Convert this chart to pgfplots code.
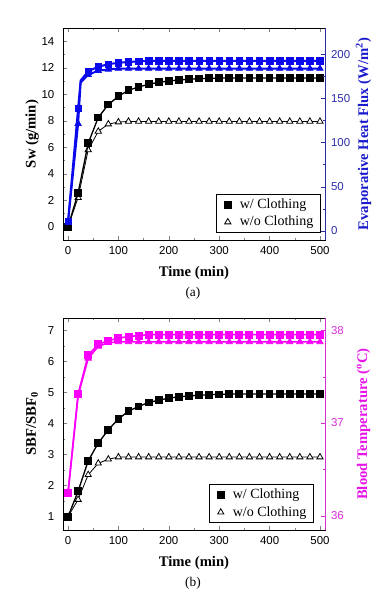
\documentclass[border=0pt]{standalone}
\usepackage{pgfplots}
\pgfplotsset{compat=1.18}
\usepackage{fontspec}
\setmainfont{Liberation Serif}
\newfontfamily\arial{Liberation Sans}
\definecolor{blueC}{RGB}{10,10,235}
\definecolor{blueT}{RGB}{45,45,170}
\definecolor{blueL}{RGB}{25,25,205}
\definecolor{magC}{RGB}{250,0,250}
\definecolor{magT}{RGB}{215,45,215}
\definecolor{magL}{RGB}{230,20,230}
\pgfplotsset{
  base/.style={
    scale only axis, width=196.5pt, height=159pt,
    xmin=-10, xmax=510,
    tick align=inside,
    major tick length=3pt, minor tick length=1.8pt,
    /pgf/number format/assume math mode=true,
    ticklabel style={font=\arial\fontsize{8.6}{10}\selectfont},
    label style={font=\bfseries\fontsize{11}{13}\selectfont},
  },
  leftax/.style={base, clip mode=individual,
    xtick={0,100,...,500}, minor x tick num=1, xtick pos=both,
    ytick pos=left, minor y tick num=1,
    yticklabel style={xshift=-3pt},
    xticklabel style={yshift=-1.5pt},
    xlabel={Time (min)},
    xlabel style={at={(axis description cs:0.5,-0.156)},anchor=center},
    ylabel style={at={(axis description cs:-0.118,0.5)},anchor=center,rotate=0},
    legend cell align=left,
    legend style={draw=black, line width=0.6pt, font=\fontsize{10.5}{12}\selectfont,
      anchor=south east, row sep=1.2pt, inner xsep=4pt, inner ysep=2pt,
      nodes={inner sep=1.5pt}},
  },
  rightax/.style={base,
    axis x line=none, axis y line*=right, ytick pos=right,
    minor y tick num=1,
    yticklabel style={xshift=1pt},
    ylabel style={at={(axis description cs:1.147,0.5)},anchor=center},
  },
  sq/.style={mark=square*, mark size=2.4pt, mark options={solid}},
  tri/.style={mark=triangle*, mark size=2.7pt, mark options={solid, fill=white}},
  legmark/.style={legend image code/.code={\path[draw=none,fill=none] (0pt,0pt) -- (12pt,0pt);
      \draw[##1] plot coordinates {(4.5pt,0pt)};}},
}
\begin{document}
\begin{tikzpicture}
\useasboundingbox (0,0) rectangle (285.75pt,-449.25pt);
% ================= (a) =================
\begin{axis}[leftax, at={(47.25pt,-180pt)}, anchor=south west,
  ymin=-1, ymax=15, ytick={0,2,...,14},
  ylabel={Sw (g/min)},
  legend style={at={(axis description cs:0.985,0.033)}}]
\addlegendimage{legmark, sq, black}
\addlegendentry{w/ Clothing}
\addlegendimage{legmark, tri, black, line width=0.6pt}
\addlegendentry{w/o Clothing}
\addplot[black, line width=0.6pt, tri, forget plot] coordinates {
(0,0) (20,2.2) (40,5.8) (60,7.2) (80,7.75) (100,7.9) (120,7.95) (140,7.95) (160,7.95) (180,7.95) (200,7.95) (220,7.95) (240,7.95) (260,7.95) (280,7.95) (300,7.95) (320,7.95) (340,7.95) (360,7.95) (380,7.95) (400,7.95) (420,7.95) (440,7.95) (460,7.95) (480,7.95) (500,7.95)};
\addplot[black, line width=1pt, sq, forget plot] coordinates {
(0,0) (20,2.55) (40,6.3) (60,8.25) (80,9.22) (100,9.85) (120,10.3) (140,10.55) (160,10.75) (180,10.9) (200,11.0) (220,11.08) (240,11.13) (260,11.18) (280,11.2) (300,11.22) (320,11.23) (340,11.23) (360,11.23) (380,11.23) (400,11.23) (420,11.23) (440,11.23) (460,11.23) (480,11.23) (500,11.23)};
\node[font=\fontsize{10}{12}\selectfont] at (axis description cs:0.496,-0.252) {(a)};
\end{axis}
\begin{axis}[rightax, at={(47.25pt,-180pt)}, anchor=south west,
  ymin=-10.5, ymax=230, ytick={0,50,...,200},
  y axis line style={blueT, line width=0.6pt}, ytick style={blueT},
  yticklabel style={blueT},
  ylabel={Evaporative Heat Flux (W/m$^{\mathbf{2}}$)},
  ylabel style={blueL}]
\addplot[blueC, line width=1.5pt] coordinates {
(0,10) (20,121.4) (25,168) (40,177) (60,181.6) (80,183) (100,184) (500,184)};
\addplot[blueC, only marks, tri, mark options={draw=blueC, line width=0.6pt}] coordinates {
(0,10) (20,121.4) (40,177) (60,181.6) (80,183) (100,184) (120,184) (140,184) (160,184) (180,184) (200,184) (220,184) (240,184) (260,184) (280,184) (300,184) (320,184) (340,184) (360,184) (380,184) (400,184) (420,184) (440,184) (460,184) (480,184) (500,184)};
\addplot[blueC, line width=1.5pt] coordinates {
(0,10.5) (20,139) (25,170.5) (40,181) (60,186) (80,189) (100,190.5) (120,191.5) (140,192) (160,192.8) (500,192.8)};
\addplot[blueC, only marks, sq] coordinates {
(0,10.5) (20,139) (40,181) (60,186) (80,189) (100,190.5) (120,191.5) (140,192) (160,192.8) (180,192.8) (200,192.8) (220,192.8) (240,192.8) (260,192.8) (280,192.8) (300,192.8) (320,192.8) (340,192.8) (360,192.8) (380,192.8) (400,192.8) (420,192.8) (440,192.8) (460,192.8) (480,192.8) (500,192.8)};
\end{axis}
% ================= (b) =================
\begin{axis}[leftax, at={(47.25pt,-397.5pt)}, anchor=south west,
  ymin=0.57, ymax=7.4, ytick={1,2,...,7},
  ylabel={SBF/SBF$_{\mathbf{0}}$},
  legend style={at={(axis description cs:0.958,0.032)}}]
\addlegendimage{legmark, sq, black}
\addlegendentry{w/ Clothing}
\addlegendimage{legmark, tri, black, line width=0.6pt}
\addlegendentry{w/o Clothing}
\addplot[black, line width=0.6pt, tri, forget plot] coordinates {
(0,1.0) (20,1.55) (40,2.35) (60,2.72) (80,2.85) (100,2.92) (120,2.92) (140,2.92) (160,2.92) (180,2.92) (200,2.92) (220,2.92) (240,2.92) (260,2.92) (280,2.92) (300,2.92) (320,2.92) (340,2.92) (360,2.92) (380,2.92) (400,2.92) (420,2.92) (440,2.92) (460,2.92) (480,2.92) (500,2.92)};
\addplot[black, line width=1pt, sq, forget plot] coordinates {
(0,1.0) (20,1.82) (40,2.8) (60,3.37) (80,3.8) (100,4.15) (120,4.4) (140,4.55) (160,4.68) (180,4.75) (200,4.82) (220,4.86) (240,4.89) (260,4.91) (280,4.93) (300,4.94) (320,4.95) (340,4.95) (360,4.95) (380,4.95) (400,4.95) (420,4.95) (440,4.95) (460,4.95) (480,4.95) (500,4.95)};
\node[font=\fontsize{10}{12}\selectfont] at (axis description cs:0.496,-0.252) {(b)};
\end{axis}
\begin{axis}[rightax, at={(47.25pt,-397.5pt)}, anchor=south west,
  ymin=35.845, ymax=38.133, ytick={36,37,38},
  y axis line style={magT, line width=0.6pt}, ytick style={magT},
  yticklabel style={magT},
  ylabel={Blood Temperature ($^{\mathbf{o}}$C)},
  ylabel style={magL}]
\addplot[magC, line width=1.2pt, tri, mark options={draw=magC, line width=0.6pt}] coordinates {
(0,36.247) (20,37.296) (40,37.698) (60,37.826) (80,37.866) (100,37.875) (120,37.875) (140,37.875) (160,37.875) (180,37.875) (200,37.875) (220,37.875) (240,37.875) (260,37.875) (280,37.875) (300,37.875) (320,37.875) (340,37.875) (360,37.875) (380,37.875) (400,37.875) (420,37.875) (440,37.875) (460,37.875) (480,37.875) (500,37.875)};
\addplot[magC, line width=1.2pt, sq] coordinates {
(0,36.247) (20,37.313) (40,37.732) (60,37.849) (80,37.889) (100,37.916) (120,37.933) (140,37.943) (160,37.953) (180,37.953) (200,37.953) (220,37.953) (240,37.953) (260,37.953) (280,37.953) (300,37.953) (320,37.953) (340,37.953) (360,37.953) (380,37.953) (400,37.953) (420,37.953) (440,37.953) (460,37.953) (480,37.953) (500,37.953)};
\end{axis}
\end{tikzpicture}
\end{document}
